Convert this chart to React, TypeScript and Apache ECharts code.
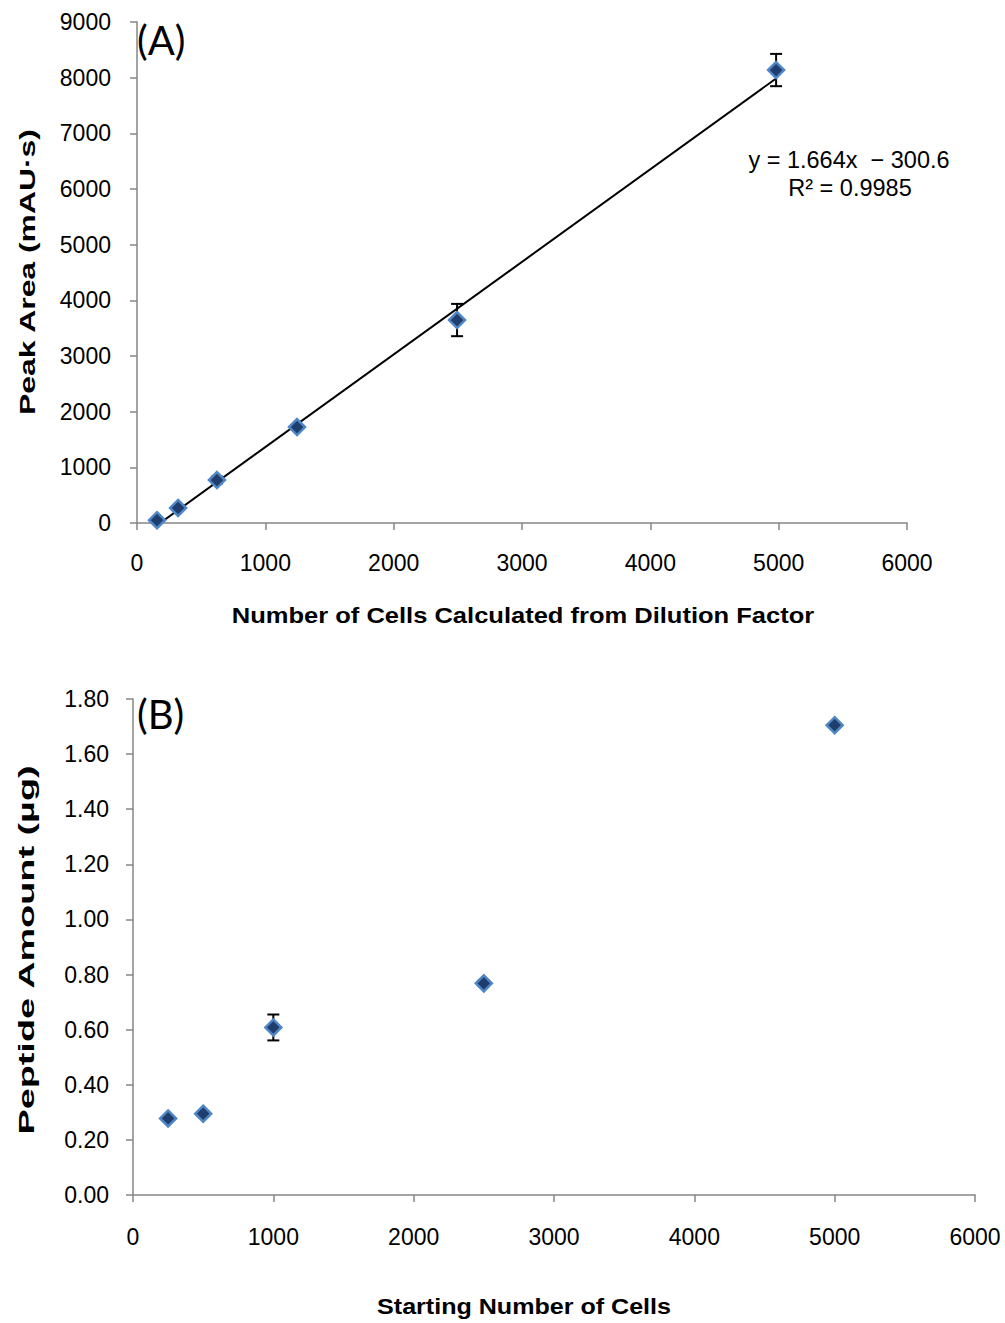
import React, { useEffect, useRef } from "react";
import * as echarts from "echarts";

// Panel A data
const cellsA = [156, 320, 623, 1247, 2494, 4980];
const peakArea = [50, 270, 772, 1724, 3646, 8137];
const peakErr = [20, 30, 60, 50, 290, 290];
const slope = 1.664;
const intercept = -300.6;
const yTicksA = [0, 1000, 2000, 3000, 4000, 5000, 6000, 7000, 8000, 9000];

// Panel B data
const cellsB = [250, 500, 1000, 2500, 5000];
const peptide = [0.278, 0.295, 0.608, 0.768, 1.705];
const peptideErr = [0.008, 0.01, 0.047, 0.01, 0.008];

const FONT = "'Liberation Sans', Arial, sans-serif";
const AX = "#868686";

function errSeries(xs: number[], ys: number[], es: number[], idx: number) {
  return {
    type: "custom",
    xAxisIndex: idx,
    yAxisIndex: idx,
    z: 3,
    data: xs.map((x, i) => [x, ys[i] - es[i], ys[i] + es[i]]),
    renderItem: (params: any, api: any) => {
      const lo = api.coord([api.value(0), api.value(1)]);
      const hi = api.coord([api.value(0), api.value(2)]);
      const w = 6;
      const st = { stroke: "#000", lineWidth: 2 };
      return {
        type: "group",
        children: [
          { type: "line", shape: { x1: lo[0], y1: lo[1], x2: hi[0], y2: hi[1] }, style: st },
          { type: "line", shape: { x1: lo[0] - w, y1: lo[1], x2: lo[0] + w, y2: lo[1] }, style: st },
          { type: "line", shape: { x1: hi[0] - w, y1: hi[1], x2: hi[0] + w, y2: hi[1] }, style: st },
        ],
      };
    },
  };
}

const markerStyle = { color: "#1f3e6e", borderColor: "#4f86c6", borderWidth: 2.5, opacity: 1 };

export default function App() {
  const ref = useRef<HTMLDivElement>(null);
  useEffect(() => {
    if (!ref.current) return;
    const chart = echarts.init(ref.current, null, { renderer: "svg" });
    const axisCommon = {
      axisLine: { show: true, lineStyle: { color: AX, width: 1.5 } },
      axisTick: { show: true, length: 7, lineStyle: { color: AX, width: 1.5 } },
      splitLine: { show: false },
    };
    const lbl = { fontSize: 23, color: "#000", fontFamily: FONT };
    const xMin = cellsA[0];
    const xMax = cellsA[cellsA.length - 1];
    const title = (text: string, x: number, y: number, vertical: boolean, stretch: number) => ({
      type: "text",
      x,
      y,
      rotation: vertical ? Math.PI / 2 : 0,
      scaleX: stretch,
      style: { text, fontSize: 22, fontWeight: "bold", fontFamily: FONT, fill: "#000", align: "center", verticalAlign: "middle" },
    });
    chart.setOption({
      animation: false,
      backgroundColor: "#fff",
      textStyle: { fontFamily: FONT },
      grid: [
        { left: 137, top: 22, width: 770, height: 501 },
        { left: 133, top: 699, width: 842, height: 496 },
      ],
      xAxis: [
        {
          gridIndex: 0, type: "value", min: 0, max: 6000, interval: 1000, ...axisCommon,
          axisLabel: { ...lbl, margin: 28, formatter: (v: number) => String(v) },
        },
        {
          gridIndex: 1, type: "value", min: 0, max: 6000, interval: 1000, ...axisCommon,
          axisLabel: { ...lbl, margin: 30, formatter: (v: number) => String(v) },
        },
      ],
      yAxis: [
        {
          gridIndex: 0, type: "value", min: yTicksA[0], max: yTicksA[yTicksA.length - 1], interval: 1000, ...axisCommon,
          axisLabel: { ...lbl, margin: 26, formatter: (v: number) => String(v) },
        },
        {
          gridIndex: 1, type: "value", min: 0, max: 1.8, interval: 0.2, ...axisCommon,
          axisLabel: { ...lbl, margin: 24, formatter: (v: number) => v.toFixed(2) },
        },
      ],
      series: [
        {
          type: "line",
          xAxisIndex: 0, yAxisIndex: 0,
          data: [[xMin, slope * xMin + intercept], [xMax, slope * xMax + intercept]],
          symbol: "none",
          lineStyle: { color: "#000", width: 2 },
          clip: true,
          z: 2,
        },
        errSeries(cellsA, peakArea, peakErr, 0),
        {
          type: "scatter", xAxisIndex: 0, yAxisIndex: 0, symbol: "diamond", symbolSize: 16,
          itemStyle: markerStyle, z: 4,
          data: cellsA.map((x, i) => [x, peakArea[i]]),
        },
        errSeries(cellsB, peptide, peptideErr, 1),
        {
          type: "scatter", xAxisIndex: 1, yAxisIndex: 1, symbol: "diamond", symbolSize: 16,
          itemStyle: markerStyle, z: 4,
          data: cellsB.map((x, i) => [x, peptide[i]]),
        },
      ],
      graphic: [
        { type: "text", left: 137, top: 20, style: { text: "(A)", fontSize: 40, fontFamily: "Lato, 'Open Sans', sans-serif", fill: "#000" } },
        { type: "text", left: 137, top: 694, style: { text: "(B)", fontSize: 40, fontFamily: "Lato, 'Open Sans', sans-serif", fill: "#000" } },
        { type: "text", x: 849, y: 160, style: { text: "y = 1.664x  − 300.6", fontSize: 23.5, fontFamily: FONT, fill: "#000", align: "center", verticalAlign: "middle" } },
        { type: "text", x: 850, y: 188, style: { text: "R² = 0.9985", fontSize: 23.5, fontFamily: FONT, fill: "#000", align: "center", verticalAlign: "middle" } },
        title("Number of Cells Calculated from Dilution Factor", 523, 615, false, 1.16),
        title("Peak Area (mAU·s)", 27, 272, true, 1.45),
        title("Starting Number of Cells", 524, 1307, false, 1.14),
        title("Peptide Amount (µg)", 27, 950, true, 1.72),
      ],
    });
    return () => chart.dispose();
  }, []);
  return (
    <div
      ref={ref}
      style={{ position: "absolute", left: 0, top: 0, width: 1005, height: 1323, background: "#fff" }}
    />
  );
}
